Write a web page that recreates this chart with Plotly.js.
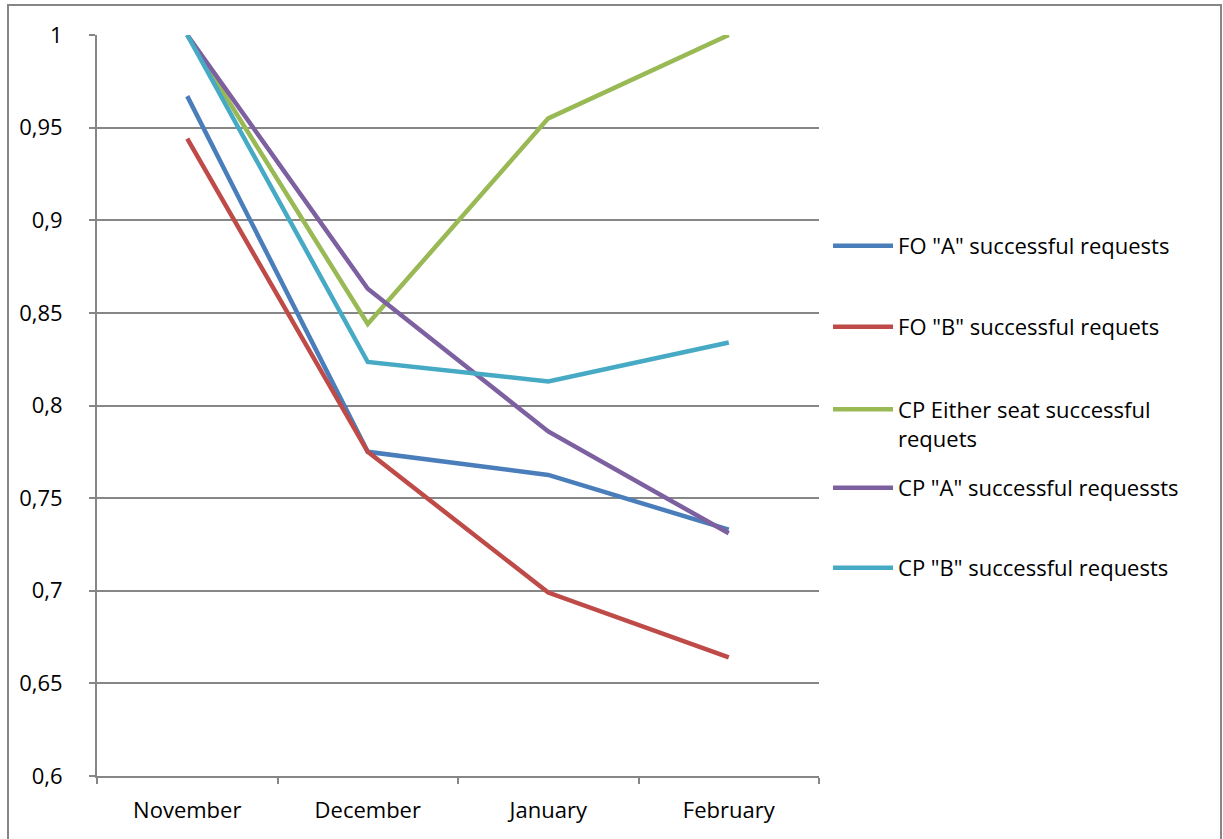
<!DOCTYPE html>
<html>
<head>
<meta charset="utf-8">
<script src="https://cdn.plot.ly/plotly-3.0.1.min.js"></script>
<style>
  html, body { margin: 0; padding: 0; background: #fff; }
  #wrap { position: relative; width: 1223px; height: 839px; overflow: hidden; }
  #chart { width: 1223px; height: 839px; }
  #frame { position: absolute; left: 7px; top: 4px; width: 1211px; height: 900px;
           border: 2px solid #868686; pointer-events: none; }
</style>
</head>
<body>
<div id="wrap">
  <div id="chart"></div>
  <div id="frame"></div>
</div>
<script>
const months = ["November", "December", "January", "February"];

const foA = [0.967, 0.775, 0.7625, 0.733];
const foB = [0.944, 0.775, 0.699, 0.664];
const cpEither = [1.0, 0.844, 0.955, 1.0];
const cpA = [1.0, 0.863, 0.786, 0.731];
const cpB = [1.0, 0.8235, 0.813, 0.834];

const seriesNames = [
  'FO "A" successful requests',
  'FO "B" successful requets',
  'CP Either seat successful<br>requets',
  'CP "A" successful requessts',
  'CP "B" successful requests'
];
const seriesColors = ["#4A7EBB", "#BE4B48", "#98B954", "#7D60A0", "#46AAC5"];

const yTickVals = [0.6, 0.65, 0.7, 0.75, 0.8, 0.85, 0.9, 0.95, 1];
const yTickText = ["0,6", "0,65", "0,7", "0,75", "0,8", "0,85", "0,9", "0,95", "1"];

const allSeries = [foA, foB, cpEither, cpA, cpB];
const legendIds = ["legend", "legend2", "legend3", "legend4", "legend5"];

const traces = allSeries.map((vals, i) => ({
  type: "scatter",
  mode: "lines",
  x: months,
  y: vals,
  name: seriesNames[i],
  line: { color: seriesColors[i], width: 4.5 },
  legend: legendIds[i],
  hoverinfo: "x+y+name"
}));

const font = { family: "Open Sans, sans-serif", size: 22, color: "#000" };
const legendY = [0.7152, 0.6059, 0.4966, 0.3887, 0.2807];

function mkLegend(y) {
  return {
    x: 1.0125, xanchor: "left",
    y: y, yanchor: "middle",
    bgcolor: "rgba(0,0,0,0)",
    borderwidth: 0,
    font: font,
    valign: "top",
    itemwidth: 60,
    itemclick: false, itemdoubleclick: false
  };
}

const layout = {
  width: 1223, height: 839,
  margin: { l: 97, r: 404, t: 35, b: 63, pad: 0 },
  paper_bgcolor: "#fff",
  plot_bgcolor: "#fff",
  font: font,
  showlegend: true,
  xaxis: {
    type: "category",
    range: [-0.5, 3.5],
    showgrid: false,
    zeroline: false,
    showline: true,
    linecolor: "#868686",
    linewidth: 2,
    ticks: "outside",
    tickson: "boundaries",
    ticklen: 6,
    tickcolor: "#868686",
    tickwidth: 2,
    ticklabelstandoff: 14,
    tickfont: font,
    fixedrange: true
  },
  yaxis: {
    range: [0.6, 1.0],
    tickvals: yTickVals,
    ticktext: yTickText,
    showgrid: true,
    gridcolor: "#868686",
    gridwidth: 2,
    zeroline: false,
    showline: true,
    linecolor: "#868686",
    linewidth: 2,
    ticks: "outside",
    ticklen: 6,
    tickcolor: "#868686",
    tickwidth: 2,
    ticklabelstandoff: 22,
    tickfont: font,
    fixedrange: true
  }
};
legendIds.forEach((id, i) => { layout[id] = mkLegend(legendY[i]); });
layout.legend3.y = 0.475;

Plotly.newPlot("chart", traces, layout, { displayModeBar: false });
</script>
</body>
</html>
